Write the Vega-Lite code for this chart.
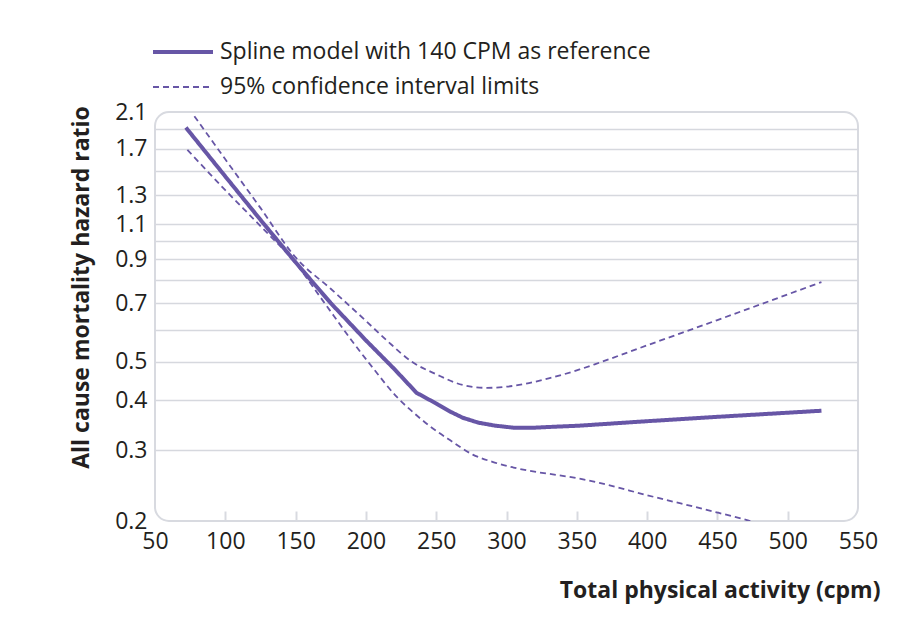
{
  "$schema": "https://vega.github.io/schema/vega-lite/v6.json",
  "width": 703,
  "height": 409,
  "autosize": "none",
  "padding": {"left": 155, "top": 112, "right": 62, "bottom": 113},
  "background": "white",
  "config": {
    "font": "Open Sans",
    "view": {"stroke": "#d8dae0", "strokeWidth": 2, "cornerRadius": 14}
  },
  "data": {
    "values": [
      {"cpm": 72, "hr": 1.92, "curve": "main", "series": "Spline model with 140 CPM as reference"},
      {"cpm": 100, "hr": 1.45, "curve": "main", "series": "Spline model with 140 CPM as reference"},
      {"cpm": 125, "hr": 1.13, "curve": "main", "series": "Spline model with 140 CPM as reference"},
      {"cpm": 150, "hr": 0.885, "curve": "main", "series": "Spline model with 140 CPM as reference"},
      {"cpm": 175, "hr": 0.70, "curve": "main", "series": "Spline model with 140 CPM as reference"},
      {"cpm": 200, "hr": 0.565, "curve": "main", "series": "Spline model with 140 CPM as reference"},
      {"cpm": 220, "hr": 0.48, "curve": "main", "series": "Spline model with 140 CPM as reference"},
      {"cpm": 236, "hr": 0.418, "curve": "main", "series": "Spline model with 140 CPM as reference"},
      {"cpm": 250, "hr": 0.393, "curve": "main", "series": "Spline model with 140 CPM as reference"},
      {"cpm": 260, "hr": 0.375, "curve": "main", "series": "Spline model with 140 CPM as reference"},
      {"cpm": 269, "hr": 0.362, "curve": "main", "series": "Spline model with 140 CPM as reference"},
      {"cpm": 280, "hr": 0.352, "curve": "main", "series": "Spline model with 140 CPM as reference"},
      {"cpm": 292, "hr": 0.346, "curve": "main", "series": "Spline model with 140 CPM as reference"},
      {"cpm": 305, "hr": 0.342, "curve": "main", "series": "Spline model with 140 CPM as reference"},
      {"cpm": 320, "hr": 0.342, "curve": "main", "series": "Spline model with 140 CPM as reference"},
      {"cpm": 335, "hr": 0.344, "curve": "main", "series": "Spline model with 140 CPM as reference"},
      {"cpm": 352, "hr": 0.346, "curve": "main", "series": "Spline model with 140 CPM as reference"},
      {"cpm": 400, "hr": 0.355, "curve": "main", "series": "Spline model with 140 CPM as reference"},
      {"cpm": 450, "hr": 0.364, "curve": "main", "series": "Spline model with 140 CPM as reference"},
      {"cpm": 524, "hr": 0.377, "curve": "main", "series": "Spline model with 140 CPM as reference"},

      {"cpm": 78, "hr": 2.05, "curve": "upper", "series": "95% confidence interval limits"},
      {"cpm": 100, "hr": 1.6, "curve": "upper", "series": "95% confidence interval limits"},
      {"cpm": 125, "hr": 1.21, "curve": "upper", "series": "95% confidence interval limits"},
      {"cpm": 150, "hr": 0.91, "curve": "upper", "series": "95% confidence interval limits"},
      {"cpm": 175, "hr": 0.76, "curve": "upper", "series": "95% confidence interval limits"},
      {"cpm": 200, "hr": 0.632, "curve": "upper", "series": "95% confidence interval limits"},
      {"cpm": 215, "hr": 0.564, "curve": "upper", "series": "95% confidence interval limits"},
      {"cpm": 233, "hr": 0.499, "curve": "upper", "series": "95% confidence interval limits"},
      {"cpm": 250, "hr": 0.465, "curve": "upper", "series": "95% confidence interval limits"},
      {"cpm": 269, "hr": 0.437, "curve": "upper", "series": "95% confidence interval limits"},
      {"cpm": 286, "hr": 0.43, "curve": "upper", "series": "95% confidence interval limits"},
      {"cpm": 305, "hr": 0.435, "curve": "upper", "series": "95% confidence interval limits"},
      {"cpm": 330, "hr": 0.454, "curve": "upper", "series": "95% confidence interval limits"},
      {"cpm": 352, "hr": 0.478, "curve": "upper", "series": "95% confidence interval limits"},
      {"cpm": 366, "hr": 0.497, "curve": "upper", "series": "95% confidence interval limits"},
      {"cpm": 400, "hr": 0.549, "curve": "upper", "series": "95% confidence interval limits"},
      {"cpm": 450, "hr": 0.635, "curve": "upper", "series": "95% confidence interval limits"},
      {"cpm": 524, "hr": 0.79, "curve": "upper", "series": "95% confidence interval limits"},

      {"cpm": 73, "hr": 1.69, "curve": "lower", "series": "95% confidence interval limits"},
      {"cpm": 100, "hr": 1.34, "curve": "lower", "series": "95% confidence interval limits"},
      {"cpm": 125, "hr": 1.09, "curve": "lower", "series": "95% confidence interval limits"},
      {"cpm": 150, "hr": 0.88, "curve": "lower", "series": "95% confidence interval limits"},
      {"cpm": 170, "hr": 0.705, "curve": "lower", "series": "95% confidence interval limits"},
      {"cpm": 190, "hr": 0.564, "curve": "lower", "series": "95% confidence interval limits"},
      {"cpm": 205, "hr": 0.482, "curve": "lower", "series": "95% confidence interval limits"},
      {"cpm": 222, "hr": 0.408, "curve": "lower", "series": "95% confidence interval limits"},
      {"cpm": 235, "hr": 0.37, "curve": "lower", "series": "95% confidence interval limits"},
      {"cpm": 245, "hr": 0.346, "curve": "lower", "series": "95% confidence interval limits"},
      {"cpm": 260, "hr": 0.318, "curve": "lower", "series": "95% confidence interval limits"},
      {"cpm": 276, "hr": 0.293, "curve": "lower", "series": "95% confidence interval limits"},
      {"cpm": 290, "hr": 0.281, "curve": "lower", "series": "95% confidence interval limits"},
      {"cpm": 305, "hr": 0.272, "curve": "lower", "series": "95% confidence interval limits"},
      {"cpm": 352, "hr": 0.255, "curve": "lower", "series": "95% confidence interval limits"},
      {"cpm": 366, "hr": 0.249, "curve": "lower", "series": "95% confidence interval limits"},
      {"cpm": 400, "hr": 0.232, "curve": "lower", "series": "95% confidence interval limits"},
      {"cpm": 450, "hr": 0.21, "curve": "lower", "series": "95% confidence interval limits"},
      {"cpm": 478, "hr": 0.198, "curve": "lower", "series": "95% confidence interval limits"},
      {"cpm": 524, "hr": 0.178, "curve": "lower", "series": "95% confidence interval limits"}
    ]
  },
  "encoding": {
    "x": {
      "field": "cpm",
      "type": "quantitative",
      "scale": {"domain": [50, 550], "nice": false, "zero": false},
      "axis": {
        "values": [50, 100, 150, 200, 250, 300, 350, 400, 450, 500, 550],
        "format": "d",
        "grid": false,
        "domain": false,
        "tickSize": -10,
        "tickWidth": 2,
        "tickColor": "#d8dae0",
        "tickOpacity": {"condition": {"test": "datum.value === 50 || datum.value === 550", "value": 0}, "value": 1},
        "labelPadding": 19,
        "labelFontSize": 23,
        "labelColor": "#231f20",
        "labelFlush": false,
        "labelOverlap": false,
        "title": "Total physical activity (cpm)",
        "titleFontSize": 23,
        "titleFontWeight": "bold",
        "titleColor": "#231f20",
        "titleAnchor": "end",
        "titleAlign": "right",
        "titleBaseline": "alphabetic",
        "titleX": 725,
        "titleY": 76
      }
    },
    "y": {
      "field": "hr",
      "type": "quantitative",
      "scale": {"type": "log", "domain": [0.2, 2.1], "nice": false},
      "axis": {
        "values": [0.2, 0.3, 0.4, 0.5, 0.6, 0.7, 0.8, 0.9, 1, 1.1, 1.3, 1.5, 1.7, 1.9, 2.1],
        "labelExpr": "indexof([0.6, 0.8, 1, 1.5, 1.9], datum.value) >= 0 ? '' : format(datum.value, '.1f')",
        "grid": true,
        "gridColor": "#d6d8de",
        "gridWidth": 1.6,
        "gridOpacity": {"condition": {"test": "datum.value === 0.2 || datum.value === 2.1", "value": 0}, "value": 1},
        "ticks": false,
        "domain": false,
        "labelPadding": 8,
        "labelFontSize": 23,
        "labelColor": "#231f20",
        "labelOverlap": false,
        "labelFlush": false,
        "title": "All cause mortality hazard ratio",
        "titleFontSize": 23,
        "titleFontWeight": "bold",
        "titleColor": "#231f20",
        "titleAngle": -90,
        "titleAlign": "center",
        "titleBaseline": "alphabetic",
        "titleX": -67,
        "titleY": 175
      }
    },
    "detail": {"field": "curve", "type": "nominal"},
    "strokeDash": {
      "field": "series",
      "type": "nominal",
      "scale": {
        "domain": ["Spline model with 140 CPM as reference", "95% confidence interval limits"],
        "range": [[1, 0], [6, 4]]
      },
      "legend": {
        "title": null,
        "orient": "none",
        "legendX": -4,
        "legendY": -75,
        "symbolType": "stroke",
        "symbolSize": 3600,
        "symbolStrokeColor": "#6756a6",
        "labelFontSize": 23,
        "labelColor": "#231f20",
        "labelOffset": 5,
        "labelLimit": 700,
        "clipHeight": 30,
        "rowPadding": 5,
        "padding": 0
      }
    },
    "strokeWidth": {
      "field": "series",
      "type": "nominal",
      "scale": {
        "domain": ["Spline model with 140 CPM as reference", "95% confidence interval limits"],
        "range": [4, 1.8]
      },
      "legend": {
        "title": null,
        "orient": "none",
        "legendX": -4,
        "legendY": -75,
        "symbolType": "stroke",
        "symbolSize": 3600,
        "symbolStrokeColor": "#6756a6",
        "labelFontSize": 23,
        "labelColor": "#231f20",
        "labelOffset": 5,
        "labelLimit": 700,
        "clipHeight": 30,
        "rowPadding": 5,
        "padding": 0
      }
    }
  },
  "layer": [
    {
      "transform": [{"filter": "datum.curve === 'main'"}],
      "mark": {"type": "line", "clip": true, "color": "#6756a6", "interpolate": "linear"}
    },
    {
      "transform": [{"filter": "datum.curve !== 'main'"}],
      "mark": {"type": "line", "clip": true, "color": "#6756a6", "interpolate": "monotone"}
    }
  ]
}
